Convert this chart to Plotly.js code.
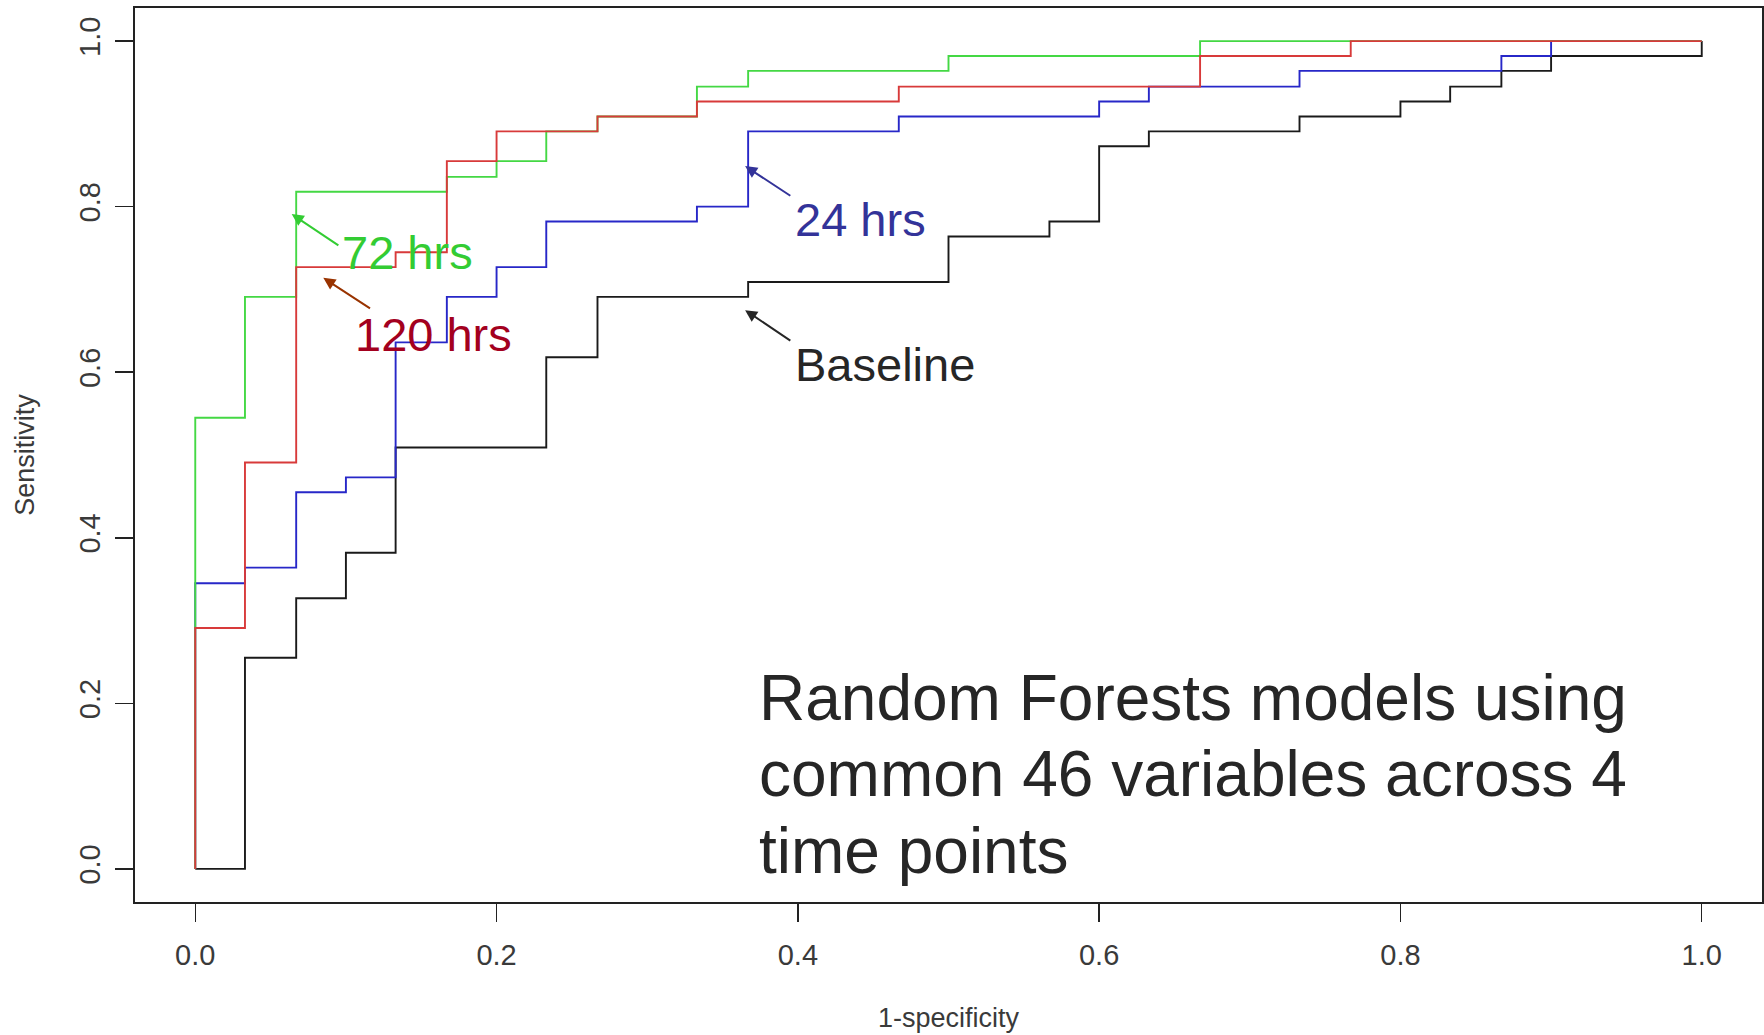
<!DOCTYPE html>
<html>
<head>
<meta charset="utf-8">
<script src="https://cdn.plot.ly/plotly-3.0.1.min.js"></script>
<style>html,body{margin:0;padding:0;background:#fff;}#chart{width:1764px;height:1035px;}</style>
</head>
<body>
<div id="chart"></div>
<script>
// ROC points (1-specificity, sensitivity); drawn as steps
const baselineFpr = [0, 0.033, 0.067, 0.1, 0.133, 0.233, 0.267, 0.367, 0.5, 0.567, 0.6, 0.633, 0.733, 0.8, 0.833, 0.867, 0.9, 1.0];
const baselineTpr = [0, 0.255, 0.327, 0.382, 0.509, 0.618, 0.691, 0.709, 0.764, 0.782, 0.873, 0.891, 0.909, 0.927, 0.945, 0.964, 0.982, 1.0];

const h24Fpr = [0, 0, 0.033, 0.067, 0.1, 0.133, 0.167, 0.2, 0.233, 0.333, 0.367, 0.467, 0.6, 0.633, 0.733, 0.867, 0.9, 1.0];
const h24Tpr = [0, 0.345, 0.364, 0.455, 0.473, 0.636, 0.691, 0.727, 0.782, 0.8, 0.891, 0.909, 0.927, 0.945, 0.964, 0.982, 1.0, 1.0];

const h72Fpr = [0, 0, 0.033, 0.067, 0.167, 0.2, 0.233, 0.267, 0.333, 0.367, 0.5, 0.667, 1.0];
const h72Tpr = [0, 0.545, 0.691, 0.818, 0.836, 0.855, 0.891, 0.909, 0.945, 0.964, 0.982, 1.0, 1.0];

const h120Fpr = [0, 0, 0.033, 0.067, 0.133, 0.167, 0.2, 0.267, 0.333, 0.467, 0.667, 0.767, 1.0];
const h120Tpr = [0, 0.291, 0.491, 0.727, 0.745, 0.855, 0.891, 0.909, 0.927, 0.945, 0.982, 1.0, 1.0];

const tickVals = [0, 0.2, 0.4, 0.6, 0.8, 1.0];
const tickText = ['0.0', '0.2', '0.4', '0.6', '0.8', '1.0'];

const seriesNames = ['Baseline', '24 hrs', '72 hrs', '120 hrs'];
const noteLines = ['Random Forests models using', 'common 46 variables across 4', 'time points'];

const FONT = 'Liberation Sans, Arial, Helvetica, sans-serif';

function stepTrace(x, y, name, color) {
  return {x: x, y: y, name: name, type: 'scatter', mode: 'lines',
          line: {shape: 'hv', color: color, width: 1.9}, hoverinfo: 'x+y+name'};
}

const data = [
  stepTrace(baselineFpr, baselineTpr, seriesNames[0], '#1a1a1a'),
  stepTrace(h24Fpr, h24Tpr, seriesNames[1], '#2727c8'),
  stepTrace(h72Fpr, h72Tpr, seriesNames[2], '#44d844'),
  stepTrace(h120Fpr, h120Tpr, seriesNames[3], '#d83a3a')
];

function arrow(hx, hy, tx, ty, color) {
  return {x: hx, y: hy, ax: tx, ay: ty, xref: 'x', yref: 'y', axref: 'x', ayref: 'y',
          text: '', showarrow: true, arrowhead: 2, arrowsize: 1.2, arrowwidth: 2, arrowcolor: color};
}
function label(x, y, text, color, size) {
  return {x: x, y: y, xref: 'x', yref: 'y', text: text, showarrow: false,
          xanchor: 'left', yanchor: 'middle', font: {family: FONT, size: size, color: color}};
}

const annotations = [
  arrow(0.064, 0.791, 0.096, 0.752, '#33cc33'),
  arrow(0.085, 0.714, 0.117, 0.676, '#993300'),
  arrow(0.365, 0.849, 0.396, 0.812, '#333399'),
  arrow(0.365, 0.675, 0.396, 0.637, '#262626'),
  label(0.096, 0.745, seriesNames[2], '#33cc33', 47),
  label(0.105, 0.645, seriesNames[3], '#a3001e', 47),
  label(0.397, 0.784, seriesNames[1], '#333399', 47),
  label(0.397, 0.609, seriesNames[0], '#262626', 47),
  label(0.373, 0.207, noteLines[0], '#262626', 64),
  label(0.373, 0.1145, noteLines[1], '#262626', 64),
  label(0.373, 0.022, noteLines[2], '#262626', 64)
];

const axisCommon = {
  range: [-0.04, 1.04], tickmode: 'array', tickvals: tickVals, ticktext: tickText,
  ticks: 'outside', ticklen: 18, tickwidth: 1.5, tickcolor: '#222',
  showline: true, mirror: true, linecolor: '#222', linewidth: 2,
  showgrid: false, zeroline: false, fixedrange: true,
  tickfont: {family: FONT, size: 29, color: '#3a3a3a'}
};

const layout = {
  width: 1764, height: 1035,
  margin: {l: 135, r: 2, t: 8, b: 133, pad: 0},
  paper_bgcolor: '#ffffff', plot_bgcolor: '#ffffff',
  showlegend: false,
  font: {family: FONT, color: '#333'},
  xaxis: Object.assign({}, axisCommon, {
    ticklabelstandoff: 8,
    title: {text: '1-specificity', font: {family: FONT, size: 27, color: '#3a3a3a'}, standoff: 38}
  }),
  yaxis: Object.assign({}, axisCommon, {
    tickangle: -90,
    ticklabelstandoff: 3,
    title: {text: 'Sensitivity', font: {family: FONT, size: 27, color: '#3a3a3a'}, standoff: 32}
  }),
  annotations: annotations
};

Plotly.newPlot('chart', data, layout, {displayModeBar: false, staticPlot: true});
</script>
</body>
</html>
